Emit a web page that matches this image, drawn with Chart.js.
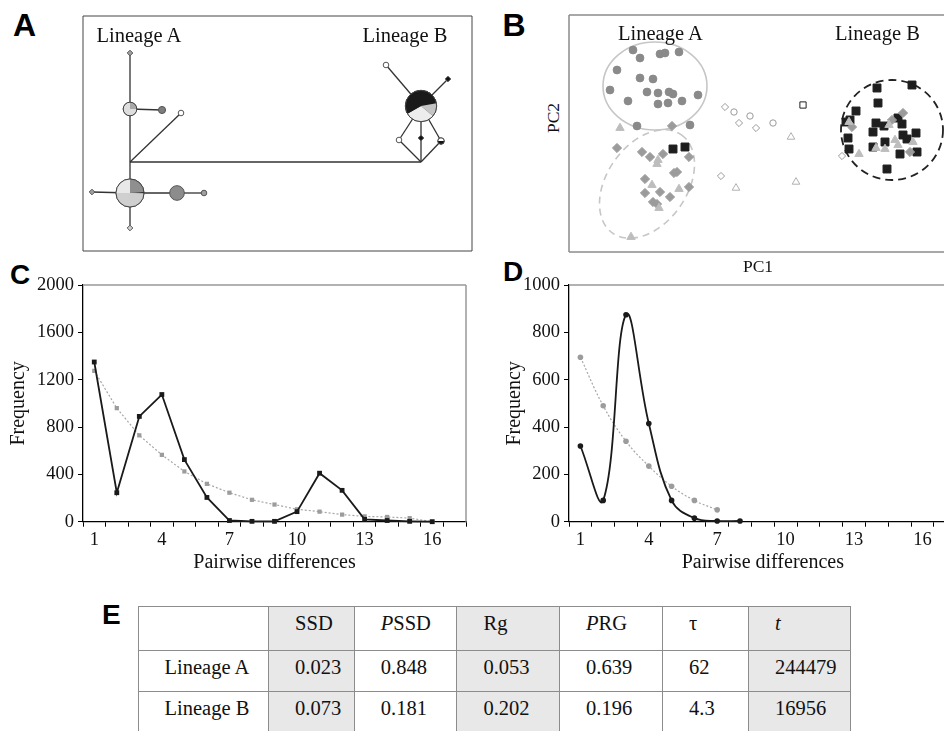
<!DOCTYPE html>
<html>
<head>
<meta charset="utf-8">
<script src="https://cdn.jsdelivr.net/npm/chart.js@4.4.1/dist/chart.umd.min.js"></script>
<style>
html, body { margin: 0; padding: 0; width: 944px; height: 731px; overflow: hidden; background: #fff; }
body { position: relative; font-family: "Liberation Serif", "Times New Roman", serif; color: #111; }
canvas { position: absolute; }
.lab { position: absolute; font-family: "Liberation Sans", Arial, sans-serif; font-weight: bold; color: #000; white-space: nowrap; }
.txt { position: absolute; font-size: 20.5px; line-height: 20.5px; white-space: nowrap; }
.pc { position: absolute; font-size: 17.5px; line-height: 18px; white-space: nowrap; color: #111; transform: translate(-50%, -50%); }
#stats { position: absolute; left: 137.5px; top: 605.5px; border-collapse: collapse; table-layout: fixed; width: 713px; font-size: 20.5px; }
#stats td { border: 1px solid #8c8c8c; padding: 6px 0 0 26px; vertical-align: top; line-height: 20px; white-space: nowrap; overflow: hidden; }
#stats tr { height: 41px; }
#stats tr.head { height: 44px; }
#stats td.s { background: #e8e8e8; }
</style>
</head>
<body>

<div class="lab" style="left:13px;top:8.5px;font-size:32px;line-height:32px;">A</div>
<div class="lab" style="left:502.5px;top:8.5px;font-size:32px;line-height:32px;">B</div>
<div class="lab" style="left:10px;top:261px;font-size:28px;line-height:28px;">C</div>
<div class="lab" style="left:503px;top:258px;font-size:28px;line-height:28px;">D</div>
<div class="lab" style="left:102px;top:601px;font-size:28px;line-height:28px;">E</div>

<canvas id="network" width="393" height="239" style="left:81px;top:14px;"></canvas>
<canvas id="pca" width="395" height="241" style="left:567px;top:13px;"></canvas>
<canvas id="mismatchA" width="480" height="310" style="left:0px;top:270px;"></canvas>
<canvas id="mismatchB" width="490" height="310" style="left:480px;top:270px;"></canvas>

<div class="txt" style="left:96.5px;top:24.5px;">Lineage A</div>
<div class="txt" style="left:362.5px;top:24.5px;">Lineage B</div>
<div class="txt" style="left:618px;top:23px;">Lineage A</div>
<div class="txt" style="left:835px;top:23px;">Lineage B</div>
<div class="pc" style="left:553px;top:118px;transform:translate(-50%,-50%) rotate(-90deg);">PC2</div>
<div class="pc" style="left:758px;top:266px;">PC1</div>

<table id="stats"></table>

<script>
// ---- C / D : mismatch distributions ----
const pairwise = ['1','2','3','4','5','6','7','8','9','10','11','12','13','14','15','16','17'];
const shownTicks = ['1','4','7','10','13','16'];
const observedA = [1350, 245, 890, 1075, 525, 205, 10, 3, 3, 85, 410, 265, 20, 10, 3, 0];
const expectedA = [1275, 960, 730, 565, 425, 320, 245, 185, 145, 105, 85, 60, 45, 40, 30, 0];
const observedB = [320, 90, 875, 415, 90, 15, 3, 3];
const expectedB = [695, 490, 340, 235, 150, 90, 50];

// ---- B : PCA scores (PC1, PC2) ----
const groupACircles = [[64,202],[71,194],[91,198],[96,199],[110,200],[48,182],[71,174],[84,173],[41,162],[78,160],[89,159],[100,160],[104,158],[129,157],[59,151],[89,148],[99,149],[113,151],[68,126],[121,127]];
const groupADiamonds = [[103,126],[48,104],[73,100],[81,95],[94,98],[120,95],[105,79],[108,80],[76,73],[91,60],[76,59],[101,55],[120,65],[84,50],[88,48]];
const groupATriangles = [[51,124],[89,92],[88,88],[83,67],[110,63],[90,44],[62,15]];
const groupASquares = [[104,103],[116,105]];
const openDiamonds = [[156,145],[170,129],[187,124],[152,76],[273,96]];
const openCircles = [[165,140],[181,136],[204,129]];
const openTriangles = [[222,115],[227,70],[167,64]];
const openSquares = [[234,147]];
const groupBSquares = [[308,164],[343,167],[309,149],[287,141],[277,130],[281,132],[307,129],[315,126],[329,134],[333,128],[304,120],[334,117],[347,119],[338,113],[279,114],[316,110],[280,103],[304,105],[331,98],[348,100],[318,83]];
const groupBDiamonds = [[334,139],[323,132],[283,125],[341,100]];
const groupBTriangles = [[280,130],[290,98],[307,104],[316,103],[320,127],[326,112],[329,107],[344,110]];
// cluster ellipses (centre, semi axes, tilt in degrees)
const ellipseCx = [86, 78, 323];
const ellipseCy = [166, 68, 122];
const ellipseRx = [52, 60, 51];
const ellipseRy = [44, 40, 50];
const ellipseTilt = [0, 55, 0];

// ---- A : haplotype network ----
const nodeX = [47, 47, 47, 79, 98, 47, 9, 94, 121, 47, 338, 338, 303, 365, 316, 338, 358];
const nodeY = [89, 198, 142, 141, 138, 58, 59, 58, 58, 23, 89, 145, 186, 172, 111, 113, 110];
const nodeCount = [0, 1, 18, 5, 1, 77, 1, 21, 1, 1, 0, 96, 1, 1, 1, 1, 4];
const edges = [[1,2],[2,0],[0,5],[5,9],[2,3],[0,4],[6,5],[5,7],[7,8],[0,10],[11,12],[11,13],[11,14],[11,15],[11,16],[14,10],[15,10],[16,10]];
const nodeSlices = [null, null, [0.25, 0.75], null, null, [0.24, 0.015, 0.495, 0.25], null, null, null, null, null, [0.222, 0.139, 0.306, 0.333], null, null, null, null, [0.25, 0.5, 0.25]];

// ---- E : neutrality table ----
const statHeaders = ['', 'SSD', '<i>P</i>SSD', 'Rg', '<i>P</i>RG', 'τ', '<i>t</i>'];
const lineages = ['Lineage A', 'Lineage B'];
const lineageAStats = ['0.023', '0.848', '0.053', '0.639', '62', '244479'];
const lineageBStats = ['0.073', '0.181', '0.202', '0.196', '4.3', '16956'];

const serif = "'Liberation Serif', 'Times New Roman', serif";
Chart.defaults.font.family = serif;
Chart.defaults.color = '#111';
const shaded = [1, 3, 6];

// table
(function () {
    const tbl = document.getElementById('stats');
    const widths = [130.6, 85.7, 102.7, 102.6, 103, 86, 102.4];
    let html = '<colgroup>' + widths.map(w => `<col style="width:${w}px">`).join('') + '</colgroup>';
    html += '<tr class="head">' + statHeaders.map((h, i) => `<td${shaded.includes(i) ? ' class="s"' : ''}>${h}</td>`).join('') + '</tr>';
    [lineageAStats, lineageBStats].forEach((row, r) => {
        const cells = [lineages[r]].concat(row);
        html += '<tr>' + cells.map((c, i) => `<td${shaded.includes(i) ? ' class="s"' : ''}>${c}</td>`).join('') + '</tr>';
    });
    tbl.innerHTML = html;
})();

const framePlugin = {
    id: 'frame',
    afterDraw(chart, args, opts) {
        const { ctx, chartArea: a } = chart;
        const sides = opts.sides || 'trbl';
        ctx.save();
        ctx.strokeStyle = opts.color;
        ctx.lineWidth = opts.width;
        ctx.beginPath();
        if (sides.includes('t')) { ctx.moveTo(a.left, a.top); ctx.lineTo(a.right, a.top); }
        if (sides.includes('r')) { ctx.moveTo(a.right, a.top); ctx.lineTo(a.right, a.bottom); }
        if (sides.includes('b')) { ctx.moveTo(a.left, a.bottom); ctx.lineTo(a.right, a.bottom); }
        if (sides.includes('l')) { ctx.moveTo(a.left, a.top); ctx.lineTo(a.left, a.bottom); }
        ctx.stroke();
        ctx.restore();
    }
};

// pie slices drawn on top of network nodes
const sliceColors = {
    2: ['#a8a8a8', '#dedede'],
    5: ['#8f8f8f', '#222', '#cfcfcf', '#e8e8e8'],
    11: ['#1a1a1a', '#c4c4c4', '#ededed', '#1a1a1a'],
    16: ['#fff', '#111', '#fff']
};
function nodeRadius(n) { return n === 0 ? 0 : Math.max(2.8, 1.6 * Math.sqrt(n)); }

const piePlugin = {
    id: 'pies',
    afterDatasetsDraw(chart) {
        const { ctx, scales: { x, y } } = chart;
        nodeSlices.forEach((slices, i) => {
            if (!slices) return;
            const cx = x.getPixelForValue(nodeX[i]);
            const cy = y.getPixelForValue(nodeY[i]);
            const r = nodeRadius(nodeCount[i]);
            let ang = -Math.PI / 2;
            ctx.save();
            slices.forEach((f, k) => {
                ctx.beginPath();
                ctx.moveTo(cx, cy);
                ctx.arc(cx, cy, r, ang, ang + f * 2 * Math.PI);
                ctx.closePath();
                ctx.fillStyle = sliceColors[i][k];
                ctx.fill();
                ang += f * 2 * Math.PI;
            });
            ctx.beginPath();
            ctx.arc(cx, cy, r, 0, 2 * Math.PI);
            ctx.strokeStyle = '#444';
            ctx.lineWidth = 1;
            ctx.stroke();
            ctx.restore();
        });
    }
};

const ellipsePlugin = {
    id: 'ellipses',
    beforeDatasetsDraw(chart) {
        const { ctx, scales: { x, y } } = chart;
        const colors = ['#c6c6c6', '#c6c6c6', '#222'];
        const dashes = [[], [7, 5], [8, 5]];
        const widths = [1.6, 1.6, 1.8];
        ellipseCx.forEach((cx, i) => {
            const px = x.getPixelForValue(cx);
            const py = y.getPixelForValue(ellipseCy[i]);
            const rx = Math.abs(x.getPixelForValue(cx + ellipseRx[i]) - px);
            const ry = Math.abs(y.getPixelForValue(ellipseCy[i] + ellipseRy[i]) - py);
            ctx.save();
            ctx.beginPath();
            ctx.ellipse(px, py, rx, ry, -ellipseTilt[i] * Math.PI / 180, 0, 2 * Math.PI);
            ctx.strokeStyle = colors[i];
            ctx.lineWidth = widths[i];
            ctx.setLineDash(dashes[i]);
            ctx.stroke();
            ctx.restore();
        });
    }
};

const hiddenAxes = (xmax, ymax) => ({
    x: { type: 'linear', min: 0, max: xmax, display: false },
    y: { type: 'linear', min: 0, max: ymax, display: false }
});

// ---- A ----
const nodeShapes = ['circle','rectRot','circle','circle','circle','circle','rectRot','circle','circle','rectRot','circle','circle','circle','rectRot','circle','rectRot','circle'];
const nodeFills = ['#000','#a0a0a0','#ddd','#7d7d7d','#fff','#ccc','#a0a0a0','#8c8c8c','#a0a0a0','#d0d0d0','#000','#222','#fff','#111','#fff','#111','#fff'];
const edgeSets = edges.map(([a, b]) => ({
    type: 'scatter',
    data: [{ x: nodeX[a], y: nodeY[a] }, { x: nodeX[b], y: nodeY[b] }],
    showLine: true,
    borderColor: '#333',
    borderWidth: 1.3,
    pointRadius: 0,
    order: 1
}));
new Chart(document.getElementById('network'), {
    type: 'scatter',
    data: {
        datasets: [{
            data: nodeX.map((x, i) => ({ x, y: nodeY[i] })),
            pointRadius: nodeCount.map(nodeRadius),
            pointStyle: nodeShapes,
            pointBackgroundColor: nodeFills,
            pointBorderColor: '#555',
            pointBorderWidth: 1,
            order: 0
        }].concat(edgeSets)
    },
    options: {
        responsive: false, animation: false,
        layout: { padding: 2, autoPadding: false },
        scales: hiddenAxes(389, 235),
        plugins: { legend: { display: false }, tooltip: { enabled: false }, frame: { color: '#444', width: 1 } }
    },
    plugins: [framePlugin, piePlugin]
});

// ---- B ----
const pts = arr => arr.map(([x, y]) => ({ x, y }));
const mark = (arr, style, r, fill, edge) => ({
    data: pts(arr), pointStyle: style, pointRadius: r,
    pointBackgroundColor: fill, pointBorderColor: edge || fill, pointBorderWidth: 1, clip: false
});
new Chart(document.getElementById('pca'), {
    type: 'scatter',
    data: {
        datasets: [
            mark(groupBTriangles, 'triangle', 4.8, '#bdbdbd'),
            mark(groupBDiamonds, 'rectRot', 4.6, '#9b9b9b'),
            mark(groupBSquares, 'rect', 5.6, '#1e1e1e'),
            mark(groupASquares, 'rect', 5.6, '#1e1e1e'),
            mark(groupATriangles, 'triangle', 4.8, '#bdbdbd'),
            mark(groupADiamonds, 'rectRot', 4.6, '#9b9b9b'),
            mark(groupACircles, 'circle', 3.9, '#8a8a8a'),
            mark(openDiamonds, 'rectRot', 3.6, '#fff', '#9a9a9a'),
            mark(openCircles, 'circle', 3.2, '#fff', '#9a9a9a'),
            mark(openTriangles, 'triangle', 4.4, '#fff', '#b0b0b0'),
            mark(openSquares, 'rect', 4.4, '#fff', '#222')
        ]
    },
    options: {
        responsive: false, animation: false,
        layout: { padding: 2, autoPadding: false },
        scales: hiddenAxes(391, 237),
        plugins: { legend: { display: false }, tooltip: { enabled: false }, frame: { color: '#8c8c8c', width: 1.5 } }
    },
    plugins: [framePlugin, ellipsePlugin]
});

// ---- C / D ----
function mismatchChart(id, observed, expected, yMax, yStep, smooth, marker, leftWidth, titlePad, rightPad) {
    const tickFont = { family: serif, size: 18.5 };
    const titleFont = { family: serif, size: 20 };
    return new Chart(document.getElementById(id), {
        type: 'line',
        data: {
            labels: pairwise,
            datasets: [{
                data: observed,
                borderColor: '#1a1a1a', borderWidth: 1.8,
                pointStyle: marker, pointRadius: marker === 'rect' ? 3.4 : 2.8,
                pointBackgroundColor: '#1a1a1a', pointBorderColor: '#1a1a1a', pointBorderWidth: 0,
                tension: smooth ? 0.4 : 0, clip: false
            }, {
                data: expected,
                borderColor: '#a6a6a6', borderWidth: 1.2, borderDash: [2, 2],
                pointStyle: marker, pointRadius: marker === 'rect' ? 3 : 2.8,
                pointBackgroundColor: '#9c9c9c', pointBorderColor: '#9c9c9c', pointBorderWidth: 0,
                tension: smooth ? 0.4 : 0, clip: false
            }]
        },
        options: {
            responsive: false, animation: false,
            layout: { padding: { top: 13, right: rightPad, left: 0, bottom: 0 }, autoPadding: false },
            scales: {
                x: {
                    type: 'category', offset: true,
                    grid: { offset: true, drawOnChartArea: false, tickLength: 5, color: '#000', lineWidth: 1 },
                    border: { color: '#000', width: 1.3 },
                    ticks: {
                        autoSkip: false, maxRotation: 0, padding: 2.5, color: '#111', font: tickFont,
                        callback: function (v) { const l = this.getLabelForValue(v); return shownTicks.includes(l) ? l : ''; }
                    },
                    title: { display: true, text: 'Pairwise differences', color: '#111', font: titleFont, padding: { top: 0, bottom: 5 } },
                    afterFit: s => { s.height = 58.3; }
                },
                y: {
                    min: 0, max: yMax,
                    grid: { drawOnChartArea: false, tickLength: 5, color: '#000', lineWidth: 1 },
                    border: { color: '#000', width: 1.3 },
                    ticks: { stepSize: yStep, padding: 4, color: '#111', font: tickFont, callback: v => String(v) },
                    title: { display: true, text: 'Frequency', color: '#111', font: titleFont, padding: { top: titlePad, bottom: 0 } },
                    afterFit: s => { s.width = leftWidth; }
                }
            },
            plugins: { legend: { display: false }, tooltip: { enabled: false }, frame: { color: '#999', width: 1.5, sides: 'tr' } }
        },
        plugins: [framePlugin]
    });
}

mismatchChart('mismatchA', observedA, expectedA, 2000, 400, false, 'rect', 83, 7, 14);
mismatchChart('mismatchB', observedB, expectedB, 1000, 200, true, 'circle', 89, 23, 13.4);
</script>
</body>
</html>
